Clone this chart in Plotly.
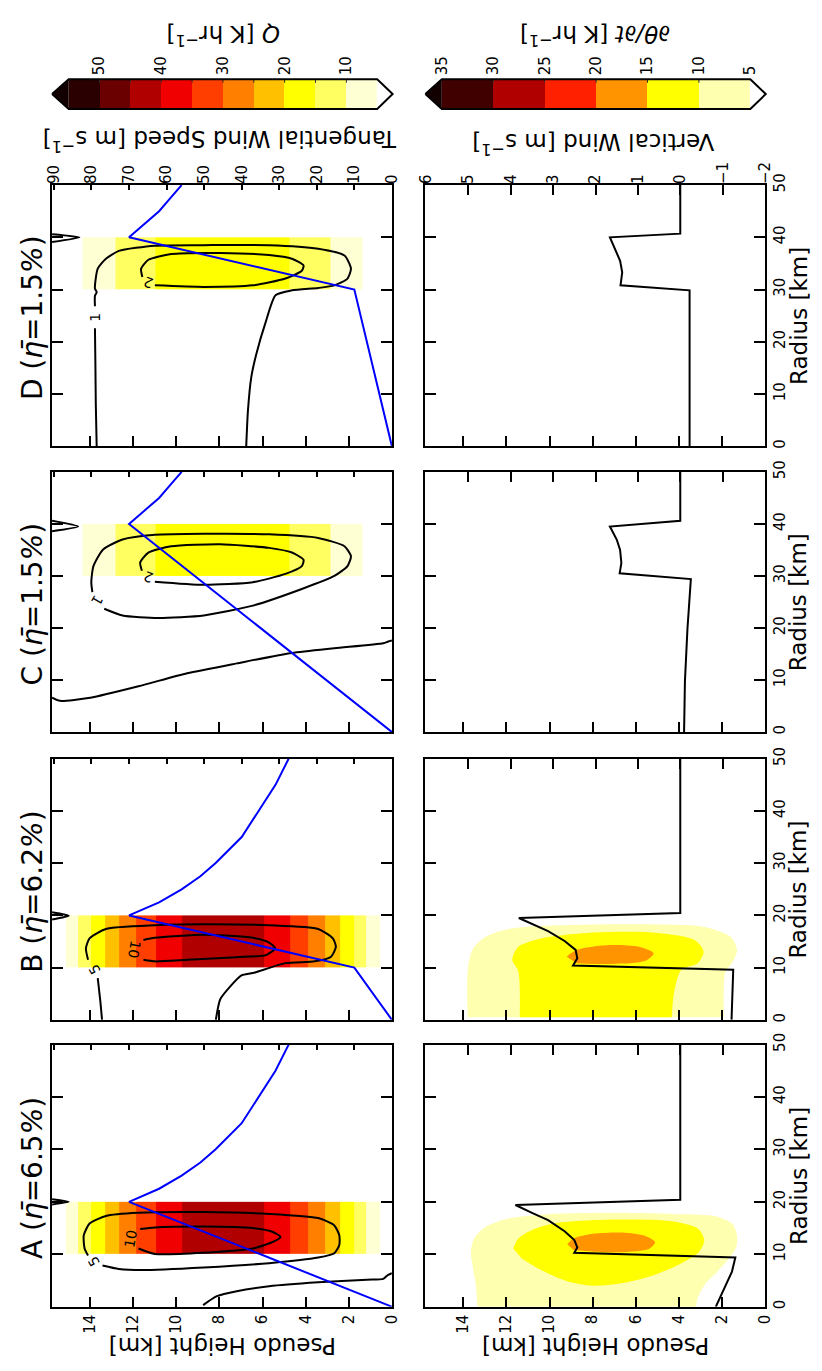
import plotly.graph_objects as go

W, H = 822, 1371

# ---------------------------------------------------------------- data
H_TOP = 15.77              # pseudo height axis limit [km]
height_ticks = [0, 2, 4, 6, 8, 10, 12, 14]
radius_ticks = [0, 10, 20, 30, 40, 50]
vt_ticks = [0, 10, 20, 30, 40, 50, 60, 70, 80, 90]
w_ticks = [-2, -1, 0, 1, 2, 3, 4, 5, 6]

# heating Q [K/hr]: filled classes between pseudo-height edges, radial extent
q_levels = [5, 10, 15, 20, 25, 30, 35, 40, 45, 50, 55]
q_colors = ["#ffffd4", "#ffff62", "#ffff00", "#ffc000", "#ff8000",
            "#ff3e00", "#f00000", "#b00000", "#6b0000", "#2b0000"]
q_edges_AB = [0.55, 1.18, 1.76, 2.41, 3.09, 3.88, 4.74, 5.95, 9.74,
              10.95, 11.86, 12.64, 13.3, 13.95, 14.56, 15.12]
q_vals_AB = [7.5, 12.5, 17.5, 22.5, 27.5, 32.5, 37.5, 42.5,
             37.5, 32.5, 27.5, 22.5, 17.5, 12.5, 7.5]
q_edges_CD = [1.38, 2.85, 4.74, 10.95, 12.85, 14.36]
q_vals_CD = [7.5, 12.5, 17.5, 12.5, 7.5]
q_radii_AB = [10, 20]
q_radii_CD = [30, 40]

# potential temperature tendency classes [K/hr]
dth_levels = [5, 10, 15, 20, 25, 30, 35]
dth_colors = ["#ffffb0", "#ffff00", "#ff9400", "#ff2000", "#b00000", "#400000"]
over_color = "#120000"

# tangential wind profiles (radius km, speed m/s)
vt_r_A = [0, 20, 22.5, 25, 27.5, 30, 35, 40, 45, 50]
vt_A = [0, 70, 62, 56, 51, 47, 40, 35.5, 31, 27.5]
vt_r_B = [0, 10, 20, 22.5, 25, 27.5, 30, 35, 40, 45, 50]
vt_B = [0, 10, 70, 62, 56, 51, 47, 40, 35.5, 31, 27.5]
vt_r_C = [0, 40, 42.5, 45, 47.5, 50]
vt_C = [0, 70, 66, 62, 59, 56]
vt_r_D = [0, 30, 40, 42.5, 45, 47.5, 50]
vt_D = [0, 10, 70, 66, 62, 59, 56]

# vertical wind profiles (radius km, w m/s)
w_r_A = [0, 1.4, 4.2, 6.7, 9.4, 10.3, 11.3, 12.7, 14.4, 16.5, 17.9, 19.4, 20.4, 50]
w_A = [-0.84, -0.92, -1.07, -1.22, -1.30, 2.50, 2.43, 2.50, 2.73, 3.12, 3.50, 3.89, 0.0, 0.0]
w_r_B = [0, 9.6, 10.4, 11.8, 13.4, 15.1, 17.0, 19.5, 20.45, 50]
w_B = [-1.21, -1.25, 2.53, 2.43, 2.47, 2.73, 3.12, 3.81, 0.0, 0.0]
w_r_C = [0, 9.75, 19.9, 29.4, 30.5, 32.5, 35.0, 37.0, 39.5, 40.6, 50]
w_C = [-0.09, -0.11, -0.17, -0.25, 1.43, 1.39, 1.42, 1.50, 1.66, 0.0, 0.0]
w_r_D = [0, 29.85, 30.8, 33.3, 35.5, 37.1, 40.0, 40.7, 50]
w_D = [-0.22, -0.22, 1.41, 1.37, 1.42, 1.50, 1.66, 0.0, 0.0]

# contour lines of the response field, (pseudo height km, radius km)
A_c10 = [(11.76, 11.1), (11.0, 10.06), (8.73, 10.3), (6.45, 11.1), (5.55, 12.3),
         (5.17, 13.3), (5.55, 14.3), (6.45, 15.0), (8.73, 15.3), (11.0, 15.1), (11.68, 14.8)]
A_c5 = [(13.43, 7.86), (12.67, 7.2), (11.6, 6.98), (8.73, 7.48), (5.7, 8.3), (3.42, 9.37),
        (2.67, 10.2), (2.44, 11.76), (2.44, 13.6), (2.67, 15.5), (3.42, 16.9), (5.7, 17.7),
        (8.73, 18.05), (11.76, 17.9), (13.27, 17.3), (14.03, 15.85), (14.3, 13.6),
        (14.26, 11.1), (14.1, 9.75)]
A_c0 = [(8.76, 0.3), (8.12, 2.0), (7.2, 2.96), (5.7, 3.9), (3.42, 4.65), (1.15, 5.15),
        (0.4, 5.3), (0.2, 6.0), (0.0, 6.4)]
A_tip = [(15.77, 20.5), (15.0, 20.0), (15.77, 19.5)]

B_c10 = [(11.53, 11.5), (11.0, 11.2), (9.48, 11.5), (7.2, 12.0), (5.85, 12.4), (5.42, 13.7),
         (5.7, 14.8), (6.45, 15.7), (8.73, 16.3), (11.0, 15.7), (11.53, 15.3)]
B_c5_stem = [(13.45, 0.0), (13.53, 3.6), (13.65, 8.0)]
B_c5 = [(14.1, 11.5), (14.2, 13.7), (14.03, 15.6), (13.27, 17.4), (11.0, 18.1), (8.73, 18.3),
        (5.7, 18.1), (3.42, 17.4), (2.74, 15.6), (2.6, 14.0), (2.82, 12.1), (3.58, 11.2),
        (4.94, 10.86), (6.45, 8.96), (6.98, 8.5), (7.5, 6.4), (7.97, 3.9), (8.17, 0.0)]
B_tip = [(15.77, 20.6), (15.0, 19.95), (15.77, 19.2)]

C_c2 = [(11.0, 28.9), (8.73, 28.3), (6.45, 28.8), (4.94, 30.4), (4.18, 31.9), (4.1, 33.1),
        (4.64, 34.5), (5.7, 35.4), (7.97, 36.1), (10.24, 35.7), (11.3, 34.5), (11.68, 32.6),
        (11.6, 31.0)]
C_c1 = [(13.35, 23.7), (12.5, 22.4), (10.85, 21.9), (8.73, 22.4), (6.45, 24.3), (4.18, 27.5),
        (2.67, 30.0), (2.06, 31.9), (1.9, 33.8), (2.2, 35.7), (3.42, 37.3), (5.7, 38.0),
        (8.73, 38.1), (11.0, 37.9), (12.5, 37.0), (13.4, 35.1), (13.85, 31.9), (13.95, 28.8),
        (13.9, 26.9)]
C_c0 = [(15.77, 6.6), (15.4, 6.0), (14.0, 6.6), (11.76, 8.8), (9.5, 11.3), (7.2, 13.2),
        (4.64, 15.2), (2.67, 16.1), (0.4, 17.05), (0.17, 17.4), (0.0, 17.6)]
C_tip = [(15.77, 40.6), (14.56, 39.5), (15.77, 38.6)]

D_c2 = [(11.0, 30.8), (8.73, 30.5), (6.45, 30.8), (4.94, 32.1), (4.18, 33.6), (4.1, 34.6),
        (4.64, 35.9), (5.7, 36.6), (7.97, 37.0), (10.24, 36.8), (11.3, 35.7), (11.64, 34.0),
        (11.58, 32.4)]
D_c1_stem = [(13.7, 0.0), (13.74, 8.0), (13.76, 16.0), (13.78, 22.6)]
D_c1 = [(13.78, 26.8), (13.78, 28.8), (13.7, 29.5), (13.78, 30.2), (13.65, 34.0),
        (13.27, 35.9), (12.67, 37.4), (11.0, 38.4), (8.73, 38.5), (5.7, 38.5), (3.42, 37.8),
        (2.2, 36.5), (1.9, 34.0), (2.06, 32.1), (2.67, 30.8), (3.42, 30.3), (4.64, 29.85),
        (5.4, 28.9), (5.85, 23.85), (6.3, 17.5), (6.53, 13.1), (6.68, 6.8), (6.76, 0.0)]
D_tip = [(15.77, 40.6), (14.5, 40.0), (15.77, 39.1)]

# filled dtheta/dt regions (pseudo height km, radius km)
A_fill5 = [(13.35, 0.0), (13.42, 4.2), (13.58, 8.0), (13.65, 10.5), (13.5, 13.0), (12.97, 15.2),
           (11.9, 16.8), (10.4, 17.55), (7.36, 17.9), (4.33, 17.7), (2.36, 17.3), (1.53, 15.85),
           (1.3, 13.65), (1.33, 11.45), (1.6, 9.55), (2.2, 6.7), (2.8, 4.2), (3.12, 1.7), (3.2, 0.0)]
A_fill10 = [(11.68, 11.1), (11.45, 13.0), (10.7, 14.8), (9.64, 16.0), (7.36, 16.6), (4.33, 16.3),
            (3.12, 14.9), (2.82, 12.7), (3.05, 10.5), (3.88, 8.3), (5.1, 6.1), (6.6, 4.5),
            (7.97, 4.0), (9.18, 4.85), (10.4, 7.0), (11.3, 9.25)]
A_fill15 = [(9.18, 11.9), (8.88, 13.0), (7.97, 13.9), (6.6, 14.15), (5.55, 13.5), (5.1, 12.3),
            (5.4, 11.0), (6.6, 10.4), (7.97, 10.5), (8.88, 10.8)]
B_fill5 = [(13.8, 0.5), (13.8, 9.3), (13.58, 13.4), (12.97, 15.9), (11.9, 17.4), (9.64, 18.1),
           (5.85, 18.3), (2.82, 17.8), (1.6, 15.9), (1.3, 13.4), (1.53, 10.85), (1.83, 9.3),
           (1.91, 0.5)]
B_fill10 = [(11.38, 0.5), (11.45, 9.3), (11.73, 11.5), (11.45, 14.0), (10.4, 15.6), (8.12, 16.7),
            (5.1, 16.7), (3.27, 15.3), (2.85, 13.1), (3.12, 10.85), (3.88, 9.6), (4.21, 5.5),
            (4.33, 0.5)]
B_fill15 = [(9.21, 12.1), (8.73, 13.4), (7.36, 14.3), (5.85, 14.0), (5.17, 12.75), (5.55, 11.3),
            (7.06, 10.7), (8.73, 10.85)]

# ---------------------------------------------------------------- layout helpers
ROW_PX = {"A": (1044, 1309), "B": (755, 1019), "C": (465, 728), "D": (175, 439)}
COL_PX = {"top": (45, 392), "bot": (426, 773)}
FONT = "DejaVu Sans"
TICK_FONT = dict(family=FONT, size=15, color="black")


def xdom(a, b):
    return [a / W, b / W]


def ydom(a, b):
    return [1 - b / H, 1 - a / H]


def discrete_scale(colors):
    n = len(colors)
    cs = []
    for i, c in enumerate(colors):
        cs += [[i / n, c], [(i + 1) / n, c]]
    return cs


fig = go.Figure()
layout = dict(width=W, height=H, margin=dict(l=0, r=0, t=0, b=0),
              paper_bgcolor="white", plot_bgcolor="white", showlegend=False,
              font=dict(family=FONT, color="black"))

panels = []
k = 0
for letter in "ABCD":
    for col in ("top", "bot"):
        k += 1
        panels.append((k, letter, col))

for k, letter, col in panels:
    xd = xdom(*COL_PX[col])
    yd = ydom(*ROW_PX[letter])
    layout[f"xaxis{k}"] = dict(
        domain=xd, range=[H_TOP, 0], anchor=f"y{k}", showline=True, mirror=True,
        linecolor="black", linewidth=2, ticks="inside", ticklen=10, tickwidth=1.5,
        tickcolor="black", tickvals=height_ticks, showticklabels=(letter == "A"),
        tickangle=-90, tickfont=TICK_FONT, showgrid=False, zeroline=False)
    layout[f"yaxis{k}"] = dict(
        domain=yd, range=[0, 50], anchor=f"x{k}", side="right", showline=True,
        mirror="ticks", linecolor="black", linewidth=2, ticks="inside", ticklen=11,
        tickwidth=1.5, tickcolor="black", tickvals=radius_ticks,
        showticklabels=(col == "bot"), tickangle=-90, tickfont=TICK_FONT,
        showgrid=False, zeroline=False)
    if col == "top":
        rng, tv, tl = [90.5, 0], vt_ticks, 5
    else:
        rng, tv, tl = [6.02, -2], w_ticks, 10
    layout[f"xaxis{k + 8}"] = dict(
        domain=xd, range=rng, overlaying=f"x{k}", anchor=f"y{k}", side="top",
        showline=False, ticks="inside", ticklen=tl, tickwidth=1.5, tickcolor="black",
        tickvals=tv, showticklabels=(letter == "D"), tickangle=-90, tickfont=TICK_FONT,
        showgrid=False, zeroline=False)

# colour bar axes
layout["xaxis17"] = dict(domain=xdom(39.95, 399.05), range=[58.5, 1.5], anchor="y9",
                         side="top", tickvals=[10, 20, 30, 40, 50], ticks="",
                         tickangle=-90, tickfont=TICK_FONT, showline=False,
                         showgrid=False, zeroline=False)
layout["yaxis9"] = dict(domain=ydom(65, 101), range=[-0.1, 1.1], anchor="x17", visible=False)
layout["xaxis18"] = dict(domain=xdom(422, 779), range=[37, 3], anchor="y10",
                         side="top", tickvals=dth_levels, ticks="",
                         tickangle=-90, tickfont=TICK_FONT, showline=False,
                         showgrid=False, zeroline=False)
layout["yaxis10"] = dict(domain=ydom(65, 101), range=[-0.1, 1.1], anchor="x18", visible=False)


def pidx(letter, col):
    for k, l, c in panels:
        if l == letter and c == col:
            return k


def add_path(pts, k, color="black", width=2, shape="spline"):
    fig.add_trace(go.Scatter(
        x=[p[0] for p in pts], y=[p[1] for p in pts], mode="lines",
        line=dict(color=color, width=width, shape=shape, smoothing=0.6),
        xaxis=f"x{k}", yaxis=f"y{k}", hoverinfo="skip"))


def add_fill(pts, k, color):
    fig.add_trace(go.Scatter(
        x=[p[0] for p in pts], y=[p[1] for p in pts], mode="lines", fill="toself",
        fillcolor=color, line=dict(width=0, shape="spline", smoothing=0.8),
        xaxis=f"x{k}", yaxis=f"y{k}", hoverinfo="skip"))


# every base panel gets a (possibly empty) trace so its frame is drawn
for k, letter, col in panels:
    fig.add_trace(go.Scatter(x=[], y=[], mode="lines", xaxis=f"x{k}", yaxis=f"y{k}",
                             hoverinfo="skip"))

q_scale = discrete_scale(q_colors)

# ---------------------------------------------------------------- top row: Q, contours, Vt
heat = {"A": (q_edges_AB, q_vals_AB, q_radii_AB), "B": (q_edges_AB, q_vals_AB, q_radii_AB),
        "C": (q_edges_CD, q_vals_CD, q_radii_CD), "D": (q_edges_CD, q_vals_CD, q_radii_CD)}
contours = {"A": [A_c10, A_c5, A_c0, A_tip], "B": [B_c10, B_c5_stem, B_c5, B_tip],
            "C": [C_c2, C_c1, C_c0, C_tip], "D": [D_c2, D_c1_stem, D_c1, D_tip]}
vt = {"A": (vt_r_A, vt_A), "B": (vt_r_B, vt_B), "C": (vt_r_C, vt_C), "D": (vt_r_D, vt_D)}

for letter in "ABCD":
    k = pidx(letter, "top")
    edges, vals, radii = heat[letter]
    fig.add_trace(go.Heatmap(x=edges, y=radii, z=[vals], colorscale=q_scale,
                             zmin=q_levels[0], zmax=q_levels[-1], showscale=False,
                             xaxis=f"x{k}", yaxis=f"y{k}", hoverinfo="skip"))
    for c in contours[letter]:
        add_path(c, k)
    r, v = vt[letter]
    fig.add_trace(go.Scatter(x=v, y=r, mode="lines", line=dict(color="#0000ff", width=2),
                             xaxis=f"x{k + 8}", yaxis=f"y{k}", hoverinfo="skip"))

# ---------------------------------------------------------------- bottom row: dtheta/dt, w
fills = {"A": [A_fill5, A_fill10, A_fill15], "B": [B_fill5, B_fill10, B_fill15]}
wprof = {"A": (w_r_A, w_A), "B": (w_r_B, w_B), "C": (w_r_C, w_C), "D": (w_r_D, w_D)}
for letter in "ABCD":
    k = pidx(letter, "bot")
    for poly, color in zip(fills.get(letter, []), dth_colors):
        add_fill(poly, k, color)
    r, w = wprof[letter]
    fig.add_trace(go.Scatter(x=w, y=r, mode="lines", line=dict(color="black", width=2),
                             xaxis=f"x{k + 8}", yaxis=f"y{k}", hoverinfo="skip"))


# ---------------------------------------------------------------- colour bars
def add_colorbar(levels, colors, xa, ya, lo_tip, hi_tip):
    mids = [(levels[i] + levels[i + 1]) / 2 for i in range(len(levels) - 1)]
    fig.add_trace(go.Heatmap(x=levels, y=[0, 1], z=[mids], colorscale=discrete_scale(colors),
                             zmin=levels[0], zmax=levels[-1], showscale=False,
                             xaxis=xa, yaxis=ya, hoverinfo="skip"))
    lo, hi = levels[0], levels[-1]
    fig.add_trace(go.Scatter(x=[hi, hi_tip, hi, hi], y=[0, 0.5, 1, 0], mode="lines",
                             fill="toself", fillcolor=over_color, line=dict(width=0),
                             xaxis=xa, yaxis=ya, hoverinfo="skip"))
    # short dark marks at the inner class boundaries along the top edge
    for lev in levels[1:-1]:
        fig.add_trace(go.Scatter(x=[lev, lev], y=[1, 0.88], mode="lines",
                                 line=dict(color="#333", width=1),
                                 xaxis=xa, yaxis=ya, hoverinfo="skip"))
    fig.add_trace(go.Scatter(x=[hi_tip, hi, lo, lo_tip, lo, hi, hi_tip],
                             y=[0.5, 1, 1, 0.5, 0, 0, 0.5], mode="lines",
                             line=dict(color="black", width=2),
                             xaxis=xa, yaxis=ya, hoverinfo="skip"))


add_colorbar(q_levels, q_colors, "x17", "y9", 2.5, 57.7)
add_colorbar(dth_levels, dth_colors, "x18", "y10", 3.5, 36.6)

# ---------------------------------------------------------------- text
ann = []


def paper_text(text, px, py, angle, size):
    ann.append(dict(text=text, x=px / W, y=1 - py / H, xref="paper", yref="paper",
                    showarrow=False, textangle=angle, xanchor="center", yanchor="middle",
                    font=dict(family=FONT, size=size, color="black")))


titles = {"A": "6.5", "B": "6.2", "C": "1.5", "D": "1.5"}
for letter, eta in titles.items():
    y0, y1 = ROW_PX[letter]
    paper_text(f"{letter} (<i>η̄</i>={eta}<i>%</i>)", 25, (y0 + y1) / 2 + 2, -90, 28)
    paper_text("Radius [km]", 807, (y0 + y1) / 2, -90, 23)

paper_text("Pseudo Height [km]", 219, 1349, 180, 23)
paper_text("Pseudo Height [km]", 600, 1349, 180, 23)
paper_text("Tangential Wind Speed [m s<sup>−1</sup>]", 217, 131, 180, 23)
paper_text("Vertical Wind [m s<sup>−1</sup>]", 598, 134, 180, 23)
paper_text("<i>Q</i> [K hr<sup>−1</sup>]", 219, 24, 180, 23)
paper_text("<i>∂θ/∂t</i> [K hr<sup>−1</sup>]", 600, 24, 180, 23)

clabels = [("A", "10", 12.15, 13.0, -80), ("A", "5", 13.85, 8.6, -120),
           ("B", "10", 11.95, 13.4, 100), ("B", "5", 13.8, 9.7, -120),
           ("C", "1", 13.7, 25.3, 120), ("C", "2", 11.3, 29.8, -160),
           ("D", "1", 13.75, 24.7, -90), ("D", "2", 11.3, 31.3, -160)]
for letter, txt, hx, ry, ang in clabels:
    k = pidx(letter, "top")
    ann.append(dict(text=txt, x=hx, y=ry, xref=f"x{k}", yref=f"y{k}", showarrow=False,
                    textangle=ang, font=dict(family=FONT, size=14, color="black")))

layout["annotations"] = ann
fig.update_layout(**layout)
fig.write_html("out.html")
